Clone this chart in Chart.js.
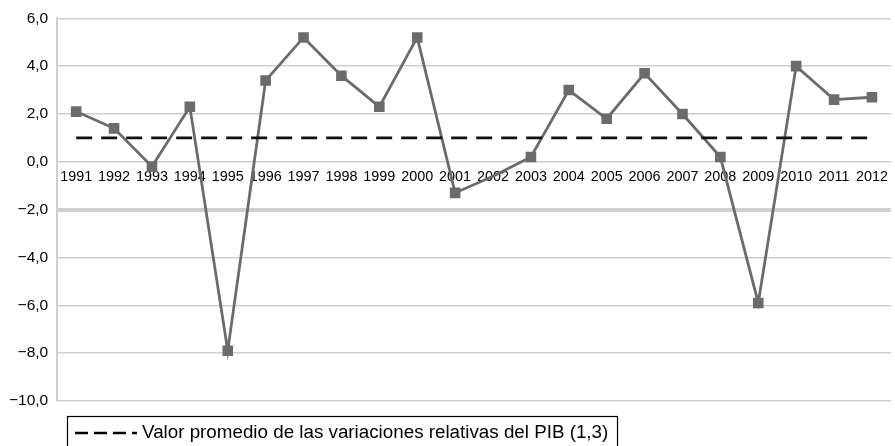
<!DOCTYPE html>
<html>
<head>
<meta charset="utf-8">
<script src="https://cdn.jsdelivr.net/npm/chart.js@4"></script>
<style>
html,body{margin:0;padding:0;background:#fff;}
#wrap{width:895px;height:446px;position:relative;}
</style>
</head>
<body>
<div id="wrap"><canvas id="c" width="895" height="446"></canvas></div>
<script>
const years = ['1991','1992','1993','1994','1995','1996','1997','1998','1999','2000','2001','2002','2003','2004','2005','2006','2007','2008','2009','2010','2011','2012'];
const pibVariation = [2.1,1.4,-0.2,2.3,-7.9,3.4,5.2,3.6,2.3,5.2,-1.3,-0.6,0.2,3.0,1.8,3.7,2.0,0.2,-5.9,4.0,2.6,2.7];
const averageValue = 1.0;
const averageLabel = 'Valor promedio de las variaciones relativas del PIB (1,3)';
const yTicks = [6,4,2,0,-2,-4,-6,-8,-10];

const FONT = '"Liberation Sans", Arial, Helvetica, sans-serif';

const legendBox = {
  id: 'legendBox',
  afterDraw(chart) {
    const ctx = chart.ctx;
    ctx.save();
    ctx.strokeStyle = '#000';
    ctx.lineWidth = 1.2;
    ctx.strokeRect(67.5, 416.5, 550, 40);
    ctx.setLineDash([13, 6]);
    ctx.lineWidth = 2.5;
    ctx.beginPath();
    ctx.moveTo(75, 433);
    ctx.lineTo(137, 433);
    ctx.stroke();
    ctx.setLineDash([]);
    ctx.fillStyle = '#000';
    ctx.font = '18.8px ' + FONT;
    ctx.textBaseline = 'middle';
    ctx.fillText(chart.data.datasets[1].label, 142, 433);
    ctx.restore();
  }
};

new Chart(document.getElementById('c'), {
  type: 'line',
  data: {
    labels: years,
    datasets: [
      {
        label: 'Variación relativa del PIB',
        data: pibVariation,
        borderColor: '#6b6b6b',
        backgroundColor: '#6b6b6b',
        borderWidth: 2.8,
        pointStyle: 'rect',
        pointRadius: pibVariation.map((v, i) => years[i] === '2002' ? 0 : 7.5),
        pointBorderWidth: 0,
        tension: 0,
        order: 2
      },
      {
        label: averageLabel,
        data: years.map(() => averageValue),
        borderColor: '#111',
        borderWidth: 2.8,
        borderDash: [16, 9],
        pointRadius: 0,
        tension: 0,
        order: 1
      }
    ]
  },
  options: {
    responsive: false,
    animation: false,
    layout: { autoPadding: false, padding: { top: 8, right: 2, bottom: 45, left: 0 } },
    plugins: {
      legend: { display: false },
      tooltip: { enabled: false }
    },
    scales: {
      x: {
        position: { y: 0 },
        offset: true,
        grid: { display: false, drawTicks: false },
        border: { display: false },
        ticks: {
          color: '#000',
          font: { family: FONT, size: 14.4 },
          maxRotation: 0,
          autoSkip: false,
          padding: 7
        }
      },
      y: {
        min: -10,
        max: 6,
        afterBuildTicks(axis) { axis.ticks = yTicks.map(v => ({ value: v })); },
        grid: {
          color: '#cfcfcf',
          lineWidth: ctx => (ctx.tick && ctx.tick.value === -2) ? 4 : 1.5,
          drawTicks: false
        },
        border: { display: true, color: '#cfcfcf', width: 2 },
        ticks: {
          color: '#000',
          font: { family: FONT, size: 15.5 },
          padding: 9,
          callback: v => (v < 0 ? '\u2212' : '') + Math.abs(v).toFixed(1).replace('.', ',')
        }
      }
    }
  },
  plugins: [legendBox]
});
</script>
</body>
</html>
